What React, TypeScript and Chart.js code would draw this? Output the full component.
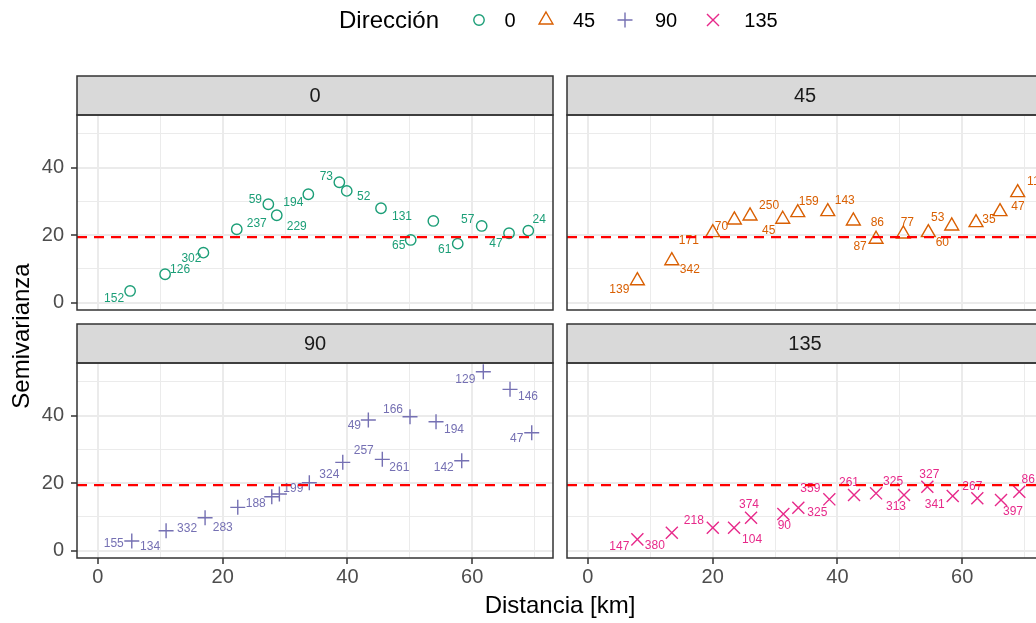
import React, { useEffect, useRef } from "react";
import { Chart, registerables } from "chart.js";

Chart.register(...registerables);

// ---------------- data ----------------
const directions = ["0", "45", "90", "135"];
const seriesColors = ["#1B9E77", "#D95F02", "#7570B3", "#E7298A"];
const seriesStyles = ["circle", "triangle", "cross", "crossRot"];

const dist0 = [5.16, 10.77, 16.91, 22.26, 27.32, 28.67, 33.73, 38.7, 39.89, 45.38, 50.14, 53.77, 57.68, 61.52, 65.9, 68.99];
const semi0 = [3.44, 8.39, 14.79, 21.73, 29.14, 25.88, 32.11, 35.67, 33.09, 27.96, 18.56, 24.19, 17.46, 22.71, 20.55, 21.32];
const pairs0 = ["152", "126", "302", "237", "59", "229", "194", "73", "52", "131", "65", "", "61", "57", "47", "24"];

const dist45 = [7.93, 13.45, 20.02, 23.48, 25.99, 31.23, 33.64, 38.45, 42.55, 46.19, 50.56, 54.57, 58.32, 62.21, 66.06, 68.89];
const semi45 = [6.49, 12.42, 20.72, 24.49, 25.67, 24.7, 26.65, 26.95, 24.19, 18.77, 20.34, 20.72, 22.71, 23.69, 26.95, 32.58];
const pairs45 = ["139", "342", "171", "70", "250", "45", "159", "143", "86", "87", "77", "60", "53", "35", "47", "118"];

const dist90 = [5.43, 10.93, 17.18, 22.42, 27.87, 29.09, 33.89, 39.25, 43.35, 45.59, 50.03, 54.2, 58.32, 61.78, 66.06, 69.54];
const semi90 = [2.82, 5.87, 9.72, 12.81, 15.95, 16.75, 20.1, 26.15, 38.69, 27.04, 39.67, 38.19, 26.62, 53.01, 47.79, 34.92];
const pairs90 = ["155", "134", "332", "283", "188", "199", "324", "257", "49", "261", "166", "194", "142", "129", "146", "47"];

const dist135 = [7.93, 13.45, 20.02, 23.43, 26.15, 31.33, 33.73, 38.7, 42.66, 46.19, 50.67, 54.41, 58.48, 62.42, 66.22, 69.15];
const semi135 = [3.32, 5.28, 6.76, 6.76, 9.72, 10.82, 12.69, 15.18, 16.45, 16.96, 16.45, 18.91, 16.16, 15.48, 14.97, 17.43];
const pairs135 = ["147", "380", "218", "104", "374", "90", "325", "359", "261", "325", "313", "327", "341", "267", "397", "86"];

const sill = 19.4;
const xTicks = [0, 10, 20, 30, 40, 50, 60, 70];
const xLabeled = [0, 20, 40, 60];
const yTicks = [0, 10, 20, 30, 40, 50];
const yLabeled = [0, 20, 40];
const xMin = -3.35;
const xMax = 72.95;
const yMin = -2.2;
const yMax = 55.6;

// label placement (pixel offsets from each point, like ggrepel)
const off0 = [[-16, 8], [15, -5], [-12, 6], [20, -6], [-13, -5], [20, 11], [-15, 8], [-13, -6], [17, 6], [21, 8], [-12, 6], [0, 0], [-13, 6], [-14, -6], [-13, 10], [11, -11]];
const off45 = [[-18, 9], [18, 9], [-24, 8], [-13, 7], [19, -10], [-14, 11], [11, -11], [17, -11], [24, 2], [-16, 7], [4, -11], [14, 10], [-14, -8], [13, -3], [18, -5], [19, -11]];
const off90 = [[-18, 3], [-16, 16], [-18, 11], [-15, 20], [-16, 7], [14, -5], [20, -8], [21, -12], [-14, 6], [17, 8], [-17, -7], [18, 8], [-18, 7], [-18, 8], [18, 7], [-15, 6]];
const off135 = [[-18, 7], [-17, 13], [-19, -7], [18, 12], [-2, -13], [1, 12], [19, 5], [-19, -11], [-5, -12], [17, -12], [-8, 12], [2, -12], [-18, 9], [-5, -12], [12, 12], [9, -12]];

// ---------------- layout ----------------
const W = 1060;
const H = 623;
const FONT = "'Liberation Sans', Arial, Helvetica, sans-serif";
const STRIP_H = 39;
const Y_AXIS_W = 60;
const X_AXIS_H = 45;

const panels = [
  { xs: dist0, ys: semi0, labels: pairs0, offs: off0, left: 77, right: 553, top: 115, bottom: 310, showX: false, showY: true },
  { xs: dist45, ys: semi45, labels: pairs45, offs: off45, left: 567, right: 1043, top: 115, bottom: 310, showX: false, showY: false },
  { xs: dist90, ys: semi90, labels: pairs90, offs: off90, left: 77, right: 553, top: 363, bottom: 558, showX: true, showY: true },
  { xs: dist135, ys: semi135, labels: pairs135, offs: off135, left: 567, right: 1043, top: 363, bottom: 558, showX: true, showY: false },
];

const symbolSize: Record<string, number> = { circle: 5.2, triangle: 8, cross: 7.5, crossRot: 8.5 };

function drawSymbol(ctx: CanvasRenderingContext2D, style: string, x: number, y: number, color: string) {
  const r = symbolSize[style];
  ctx.save();
  ctx.strokeStyle = color;
  ctx.lineWidth = 1.4;
  ctx.beginPath();
  if (style === "circle") {
    ctx.arc(x, y, r, 0, Math.PI * 2);
  } else if (style === "triangle") {
    for (let k = 0; k < 3; k++) {
      const a = (k * 2 * Math.PI) / 3;
      const px = x + Math.sin(a) * r;
      const py = y - Math.cos(a) * r;
      if (k === 0) ctx.moveTo(px, py);
      else ctx.lineTo(px, py);
    }
    ctx.closePath();
  } else if (style === "cross") {
    ctx.moveTo(x - r, y);
    ctx.lineTo(x + r, y);
    ctx.moveTo(x, y - r);
    ctx.lineTo(x, y + r);
  } else {
    const d = r * Math.SQRT1_2;
    ctx.moveTo(x - d, y - d);
    ctx.lineTo(x + d, y + d);
    ctx.moveTo(x - d, y + d);
    ctx.lineTo(x + d, y - d);
  }
  ctx.stroke();
  ctx.restore();
}

const legendItems = [
  { sym: 479, text: 510 },
  { sym: 546, text: 584 },
  { sym: 625, text: 666 },
  { sym: 713, text: 761 },
];

const figurePlugin = {
  id: "figureText",
  afterDraw(chart: any) {
    const ctx = chart.ctx as CanvasRenderingContext2D;
    ctx.save();
    ctx.fillStyle = "#000000";
    ctx.textBaseline = "middle";
    // legend
    ctx.font = `24px ${FONT}`;
    ctx.textAlign = "left";
    ctx.fillText("Dirección", 339, 21);
    ctx.font = `20px ${FONT}`;
    ctx.textAlign = "center";
    legendItems.forEach((it, i) => {
      drawSymbol(ctx, seriesStyles[i], it.sym, 20, seriesColors[i]);
      ctx.fillStyle = "#000000";
      ctx.fillText(directions[i], it.text, 21);
    });
    // axis titles
    ctx.font = `24px ${FONT}`;
    ctx.fillText("Distancia [km]", 560, 606);
    ctx.translate(22, 336);
    ctx.rotate(-Math.PI / 2);
    ctx.fillText("Semivarianza", 0, 0);
    ctx.restore();
  },
};

function makePanelPlugin(idx: number) {
  const p = panels[idx];
  const color = seriesColors[idx];
  return {
    id: "panel" + idx,
    afterDatasetDraw(chart: any, args: any) {
      if (args.index !== 0) return;
      const ctx = chart.ctx as CanvasRenderingContext2D;
      ctx.save();
      ctx.font = `12px ${FONT}`;
      ctx.fillStyle = color;
      ctx.textAlign = "center";
      ctx.textBaseline = "middle";
      args.meta.data.forEach((el: any, j: number) => {
        const t = p.labels[j];
        if (!t) return;
        const o = p.offs[j];
        ctx.fillText(t, el.x + o[0], el.y + o[1]);
      });
      ctx.restore();
    },
    afterDraw(chart: any) {
      const ctx = chart.ctx as CanvasRenderingContext2D;
      const a = chart.chartArea;
      ctx.save();
      ctx.fillStyle = "#D9D9D9";
      ctx.fillRect(a.left, a.top - STRIP_H, a.right - a.left, STRIP_H);
      ctx.strokeStyle = "#333333";
      ctx.lineWidth = 1.5;
      ctx.strokeRect(a.left, a.top - STRIP_H, a.right - a.left, STRIP_H);
      ctx.strokeRect(a.left, a.top, a.right - a.left, a.bottom - a.top);
      ctx.fillStyle = "#1A1A1A";
      ctx.font = `20px ${FONT}`;
      ctx.textAlign = "center";
      ctx.textBaseline = "middle";
      ctx.fillText(directions[idx], (a.left + a.right) / 2, a.top - STRIP_H / 2 + 1);
      ctx.restore();
    },
  };
}

function buildConfig(idx: number): any {
  const p = panels[idx];
  const color = seriesColors[idx];
  const style = seriesStyles[idx];
  const plugins: any[] = [makePanelPlugin(idx)];
  if (idx === 0) plugins.push(figurePlugin);
  return {
    type: "scatter",
    data: {
      datasets: [
        {
          type: "scatter",
          label: directions[idx],
          data: p.xs.map((x, j) => ({ x, y: p.ys[j] })),
          pointStyle: style,
          pointRadius: symbolSize[style],
          pointHoverRadius: symbolSize[style],
          pointBorderWidth: 1.4,
          borderColor: color,
          backgroundColor: "rgba(0,0,0,0)",
          order: 1,
          clip: false,
        },
        {
          type: "line",
          label: "sill",
          data: [
            { x: xMin, y: sill },
            { x: xMax, y: sill },
          ],
          borderColor: "#FF0000",
          borderWidth: 2.2,
          borderDash: [10, 7],
          pointRadius: 0,
          fill: false,
          order: 0,
        },
      ],
    },
    options: {
      responsive: false,
      animation: false,
      devicePixelRatio: 1,
      events: [],
      layout: {
        padding: {
          left: p.left - Y_AXIS_W,
          right: W - p.right,
          top: p.top,
          bottom: H - p.bottom - X_AXIS_H,
        },
      },
      plugins: {
        legend: { display: false },
        tooltip: { enabled: false },
        title: { display: false },
      },
      scales: {
        x: {
          type: "linear",
          min: xMin,
          max: xMax,
          afterBuildTicks: (s: any) => {
            s.ticks = xTicks.map((v) => ({ value: v }));
          },
          afterFit: (s: any) => {
            s.height = X_AXIS_H;
            s.paddingLeft = 0;
            s.paddingRight = 0;
          },
          border: { display: false },
          grid: {
            color: "#EBEBEB",
            lineWidth: (c: any) => (xLabeled.includes(c.tick?.value) ? 2 : 1),
            drawTicks: p.showX,
            tickLength: 6,
            tickWidth: 1.5,
            tickColor: (c: any) => (xLabeled.includes(c.tick?.value) ? "#333333" : "rgba(0,0,0,0)"),
          },
          ticks: {
            display: p.showX,
            autoSkip: false,
            maxRotation: 0,
            padding: 1,
            color: "#4D4D4D",
            font: { family: FONT, size: 20 },
            callback: (v: any) => (xLabeled.includes(v) ? String(v) : ""),
          },
        },
        y: {
          type: "linear",
          min: yMin,
          max: yMax,
          afterBuildTicks: (s: any) => {
            s.ticks = yTicks.map((v) => ({ value: v }));
          },
          afterFit: (s: any) => {
            s.width = Y_AXIS_W;
            s.paddingTop = 0;
            s.paddingBottom = 0;
          },
          border: { display: false },
          grid: {
            color: "#EBEBEB",
            lineWidth: (c: any) => (yLabeled.includes(c.tick?.value) ? 2 : 1),
            drawTicks: p.showY,
            tickLength: 6,
            tickWidth: 1.5,
            tickColor: (c: any) => (yLabeled.includes(c.tick?.value) ? "#333333" : "rgba(0,0,0,0)"),
          },
          ticks: {
            display: p.showY,
            autoSkip: false,
            padding: 7,
            color: "#4D4D4D",
            font: { family: FONT, size: 20 },
            callback: (v: any) => (yLabeled.includes(v) ? String(v) : ""),
          },
        },
      },
    },
    plugins,
  };
}

export default function App() {
  const refs = useRef<(HTMLCanvasElement | null)[]>([]);

  useEffect(() => {
    const charts: Chart[] = [];
    panels.forEach((_, i) => {
      const c = refs.current[i];
      if (c) charts.push(new Chart(c, buildConfig(i)));
    });
    return () => {
      charts.forEach((ch) => ch.destroy());
    };
  }, []);

  return (
    <div
      style={{
        position: "fixed",
        left: 0,
        top: 0,
        width: 1036,
        height: 623,
        overflow: "hidden",
        background: "#ffffff",
      }}
    >
      {panels.map((_, i) => (
        <canvas
          key={i}
          ref={(el) => {
            refs.current[i] = el;
          }}
          width={W}
          height={H}
          style={{ position: "absolute", left: 0, top: 0, width: W, height: H }}
        />
      ))}
    </div>
  );
}
